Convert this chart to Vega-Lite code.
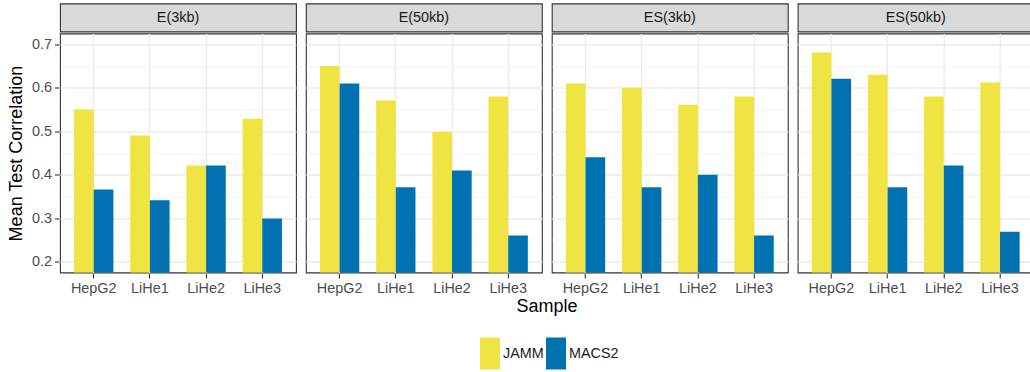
{
  "$schema": "https://vega.github.io/schema/vega-lite/v6.json",
  "background": "white",
  "padding": {"left": 7, "top": 2.5, "right": 0, "bottom": 0},
  "config": {
    "font": "Liberation Sans",
    "view": {"stroke": "#333333", "strokeWidth": 1.1}
  },
  "datasets": {
    "bars": [
      {"panel": "E(3kb)", "sample": "HepG2", "method": "JAMM", "value": 0.55},
      {"panel": "E(3kb)", "sample": "HepG2", "method": "MACS2", "value": 0.366},
      {"panel": "E(3kb)", "sample": "LiHe1", "method": "JAMM", "value": 0.49},
      {"panel": "E(3kb)", "sample": "LiHe1", "method": "MACS2", "value": 0.341},
      {"panel": "E(3kb)", "sample": "LiHe2", "method": "JAMM", "value": 0.421},
      {"panel": "E(3kb)", "sample": "LiHe2", "method": "MACS2", "value": 0.421},
      {"panel": "E(3kb)", "sample": "LiHe3", "method": "JAMM", "value": 0.529},
      {"panel": "E(3kb)", "sample": "LiHe3", "method": "MACS2", "value": 0.299},
      {"panel": "E(50kb)", "sample": "HepG2", "method": "JAMM", "value": 0.65},
      {"panel": "E(50kb)", "sample": "HepG2", "method": "MACS2", "value": 0.61},
      {"panel": "E(50kb)", "sample": "LiHe1", "method": "JAMM", "value": 0.571},
      {"panel": "E(50kb)", "sample": "LiHe1", "method": "MACS2", "value": 0.371},
      {"panel": "E(50kb)", "sample": "LiHe2", "method": "JAMM", "value": 0.499},
      {"panel": "E(50kb)", "sample": "LiHe2", "method": "MACS2", "value": 0.41},
      {"panel": "E(50kb)", "sample": "LiHe3", "method": "JAMM", "value": 0.58},
      {"panel": "E(50kb)", "sample": "LiHe3", "method": "MACS2", "value": 0.26},
      {"panel": "ES(3kb)", "sample": "HepG2", "method": "JAMM", "value": 0.61},
      {"panel": "ES(3kb)", "sample": "HepG2", "method": "MACS2", "value": 0.44},
      {"panel": "ES(3kb)", "sample": "LiHe1", "method": "JAMM", "value": 0.6},
      {"panel": "ES(3kb)", "sample": "LiHe1", "method": "MACS2", "value": 0.371},
      {"panel": "ES(3kb)", "sample": "LiHe2", "method": "JAMM", "value": 0.561},
      {"panel": "ES(3kb)", "sample": "LiHe2", "method": "MACS2", "value": 0.4},
      {"panel": "ES(3kb)", "sample": "LiHe3", "method": "JAMM", "value": 0.58},
      {"panel": "ES(3kb)", "sample": "LiHe3", "method": "MACS2", "value": 0.26},
      {"panel": "ES(50kb)", "sample": "HepG2", "method": "JAMM", "value": 0.681},
      {"panel": "ES(50kb)", "sample": "HepG2", "method": "MACS2", "value": 0.621},
      {"panel": "ES(50kb)", "sample": "LiHe1", "method": "JAMM", "value": 0.63},
      {"panel": "ES(50kb)", "sample": "LiHe1", "method": "MACS2", "value": 0.371},
      {"panel": "ES(50kb)", "sample": "LiHe2", "method": "JAMM", "value": 0.58},
      {"panel": "ES(50kb)", "sample": "LiHe2", "method": "MACS2", "value": 0.421},
      {"panel": "ES(50kb)", "sample": "LiHe3", "method": "JAMM", "value": 0.612},
      {"panel": "ES(50kb)", "sample": "LiHe3", "method": "MACS2", "value": 0.269}
    ]
  },
  "spacing": 0,
  "vconcat": [
    {
      "data": {"name": "bars"},
      "transform": [{"aggregate": [{"op": "count", "as": "n"}], "groupby": ["panel"]}],
      "facet": {
        "column": {"field": "panel", "type": "nominal", "sort": ["E(3kb)", "E(50kb)", "ES(3kb)", "ES(50kb)"], "header": {"labels": false, "title": null}}
      },
      "spacing": 7.9,
      "spec": {
        "width": 236,
        "height": 28,
        "view": {"fill": "#D9D9D9", "stroke": "#333333", "strokeWidth": 1.1},
        "mark": {"type": "text", "fontSize": 14.4, "color": "#1A1A1A"},
        "encoding": {"text": {"field": "panel", "type": "nominal"}}
      }
    },
    {
      "data": {"name": "bars"},
      "facet": {
        "column": {
          "field": "panel", "type": "nominal", "sort": ["E(3kb)", "E(50kb)", "ES(3kb)", "ES(50kb)"],
          "header": {
            "labels": false, "title": "Sample", "titleOrient": "bottom",
            "titleFontSize": 18, "titleFontWeight": "normal", "titleColor": "black",
            "titleFont": "Liberation Sans", "titlePadding": -7
          }
        }
      },
      "spacing": 7.9,
      "spec": {
        "width": 236,
        "height": 239,
        "mark": {"type": "bar", "clip": true},
        "encoding": {
          "x": {
            "field": "sample", "type": "nominal", "title": null,
            "scale": {"paddingInner": 0.3, "paddingOuter": 0.25},
            "axis": {
              "labelAngle": 0, "bandPosition": 0.5, "domain": false,
              "gridColor": "#EBEBEB", "gridWidth": 1.3, "grid": true,
              "tickColor": "#333333", "tickSize": 4.5, "tickWidth": 1.1,
              "labelColor": "#4D4D4D", "labelFontSize": 14.4, "labelPadding": 3
            }
          },
          "xOffset": {"field": "method", "type": "nominal"},
          "y": {
            "field": "value", "type": "quantitative", "title": "Mean Test Correlation",
            "scale": {"domain": [0.175, 0.725], "nice": false, "zero": false},
            "axis": {
              "values": [0.2, 0.25, 0.3, 0.35, 0.4, 0.45, 0.5, 0.55, 0.6, 0.65, 0.7],
              "labelExpr": "round(datum.value*20) % 2 == 0 ? format(datum.value, '.1f') : ''",
              "domain": false,
              "gridColor": "#EBEBEB",
              "gridWidth": {"condition": {"test": "round(datum.value*20) % 2 == 1", "value": 0.6}, "value": 1.3},
              "tickOpacity": {"condition": {"test": "round(datum.value*20) % 2 == 1", "value": 0}, "value": 1},
              "tickColor": "#333333", "tickSize": 4.5, "tickWidth": 1.1,
              "labelColor": "#4D4D4D", "labelFontSize": 14.4, "labelPadding": 3,
              "titleFontSize": 18, "titleFontWeight": "normal", "titleColor": "black", "titlePadding": 6
            }
          },
          "color": {
            "field": "method", "type": "nominal",
            "scale": {"domain": ["JAMM", "MACS2"], "range": ["#F0E442", "#0072B2"]},
            "legend": {
              "title": null, "orient": "none", "direction": "horizontal",
              "legendX": 420, "legendY": 340,
              "symbolType": "M-1,-1.6H1V1.6H-1Z", "symbolSize": 400, "symbolStrokeWidth": 0,
              "labelFontSize": 14.4, "labelColor": "#1A1A1A", "labelOffset": 3, "columnPadding": 2
            }
          }
        }
      }
    }
  ]
}
